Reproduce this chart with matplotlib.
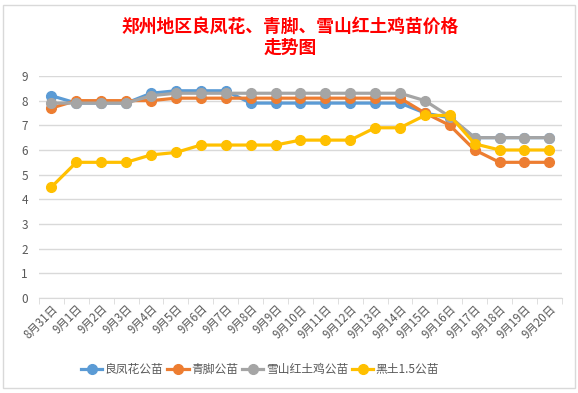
import matplotlib
matplotlib.use("Agg")
import matplotlib.pyplot as plt
from matplotlib.patches import Rectangle
import numpy as np

plt.rcParams['font.family'] = ['Noto Sans CJK SC', 'DejaVu Sans']

dates = ["8月31日"] + [f"9月{i}日" for i in range(1, 21)]
lianghua = [8.2, 7.9, 7.9, 7.9, 8.3, 8.4, 8.4, 8.4, 7.9, 7.9, 7.9, 7.9, 7.9, 7.9, 7.9, 7.5, 7.3, 6.5, 6.5, 6.5, 6.5]
qingjiao = [7.7, 8.0, 8.0, 8.0, 8.0, 8.1, 8.1, 8.1, 8.1, 8.1, 8.1, 8.1, 8.1, 8.1, 8.1, 7.5, 7.0, 6.0, 5.5, 5.5, 5.5]
xueshan = [7.9, 7.9, 7.9, 7.9, 8.2, 8.3, 8.3, 8.3, 8.3, 8.3, 8.3, 8.3, 8.3, 8.3, 8.3, 8.0, 7.35, 6.5, 6.5, 6.5, 6.5]
heitu = [4.5, 5.5, 5.5, 5.5, 5.8, 5.9, 6.2, 6.2, 6.2, 6.2, 6.4, 6.4, 6.4, 6.9, 6.9, 7.4, 7.4, 6.25, 6.0, 6.0, 6.0]
names = ["良凤花公苗", "青脚公苗", "雪山红土鸡公苗", "黑土1.5公苗"]
colors = ["#5B9BD5", "#ED7D31", "#A5A5A5", "#FFC000"]
title = "郑州地区良凤花、青脚、雪山红土鸡苗价格\n走势图"

fig = plt.figure(figsize=(5.78, 3.93), dpi=100)
fig.patches.append(Rectangle((0.006, 0.013), 0.988, 0.975, transform=fig.transFigure,
                             fill=False, edgecolor="#D9D9D9", linewidth=1))
ax = fig.add_axes([0.0675, 0.2417, 0.9045, 0.565])
x = np.arange(len(dates))
for vals, name, c in zip([lianghua, qingjiao, xueshan, heitu], names, colors):
    ax.plot(x, vals, color=c, linewidth=2.3, marker='o', markersize=7, label=name,
            solid_joinstyle='round')

ax.set_xlim(-0.5, len(dates) - 0.5)
ax.set_ylim(0, 9)
ax.set_yticks(range(0, 10))
ax.yaxis.grid(True, color="#D9D9D9", linewidth=1)
ax.set_axisbelow(True)
for s in ["top", "right", "left"]:
    ax.spines[s].set_visible(False)
ax.spines["bottom"].set_color("#D9D9D9")
ax.tick_params(axis='y', length=0, labelsize=8.5, labelcolor="#595959", pad=8)
ax.set_xticks(x)
ax.set_xticklabels(dates, rotation=45, ha='right', rotation_mode='anchor',
                   fontsize=8.3, color="#595959")
ax.tick_params(axis='x', which='major', length=0, pad=3)
ax.set_xticks(np.arange(-0.5, len(dates), 1), minor=True)
ax.tick_params(axis='x', which='minor', length=4, color="#D9D9D9")

fig.text(0.502, 0.905, title, ha='center', va='center', color="#FF0000",
         fontsize=12.8, fontweight='bold', linespacing=1.15)

leg = fig.legend(loc='center', bbox_to_anchor=(0.45, 0.06), ncol=4, frameon=False,
                 fontsize=8.5, handlelength=1.8, columnspacing=0.35, handletextpad=0.2)
for t in leg.get_texts():
    t.set_color("#595959")

fig.savefig("out.png", dpi=100)
